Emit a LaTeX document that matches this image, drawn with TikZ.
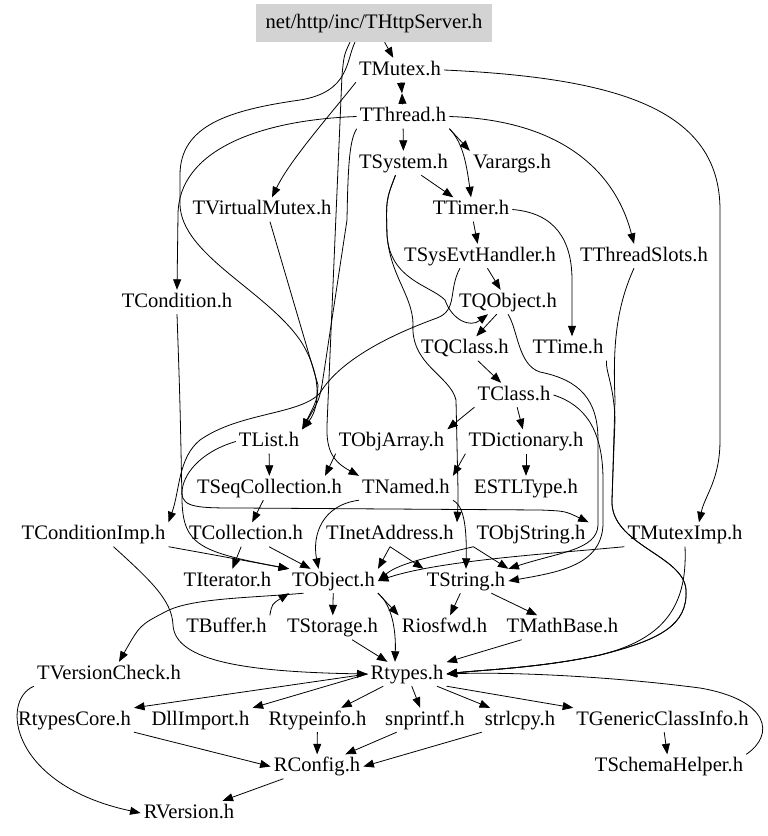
\documentclass[tikz,border=0pt]{standalone}
\usepackage{fontspec}
\setmainfont{Liberation Serif}
\usetikzlibrary{arrows.meta}
\definecolor{rootgrey}{HTML}{D3D3D3}

\begin{document}
\begin{tikzpicture}[x=1pt,y=-1pt,
    hdr/.style={inner xsep=3pt,inner ysep=3pt,text height=14pt,text depth=4pt,font=\fontsize{20.6}{24}\selectfont},
    rootbox/.style={hdr,fill=rootgrey,minimum width=236pt,minimum height=38pt},
    edge/.style={-{Triangle[length=10.5pt,width=8pt]},line width=0.8pt}]
            \useasboundingbox (0,0) rectangle (768,836);

            \node[rootbox] (srv) at (374,23) {net/http/inc/THttpServer.h};
            \node[hdr] (tmutex) at (400,70) {TMutex.h};
            \node[hdr] (tthread) at (403,116.5) {TThread.h};
            \node[hdr] (tsystem) at (403.5,163) {TSystem.h};
            \node[hdr] (varargs) at (512,163) {Varargs.h};
            \node[hdr] (tvmutex) at (262,209.5) {TVirtualMutex.h};
            \node[hdr] (ttimer) at (471,209.5) {TTimer.h};
            \node[hdr] (tsysevt) at (480,256) {TSysEvtHandler.h};
            \node[hdr] (tslots) at (644,256) {TThreadSlots.h};
            \node[hdr] (tcondition) at (177,302) {TCondition.h};
            \node[hdr] (tqobject) at (508,302) {TQObject.h};
            \node[hdr] (tqclass) at (465,348.5) {TQClass.h};
            \node[hdr] (ttime) at (568,348.5) {TTime.h};
            \node[hdr] (tclass) at (514,395) {TClass.h};
            \node[hdr] (tlist) at (269,441.5) {TList.h};
            \node[hdr] (tobjarray) at (391.5,441.5) {TObjArray.h};
            \node[hdr] (tdict) at (526,441.5) {TDictionary.h};
            \node[hdr] (tseqcoll) at (269.5,488) {TSeqCollection.h};
            \node[hdr] (tnamed) at (406,488) {TNamed.h};
            \node[hdr] (estltype) at (526,488) {ESTLType.h};
            \node[hdr] (tcondimp) at (93.5,534.5) {TConditionImp.h};
            \node[hdr] (tcoll) at (246,534.5) {TCollection.h};
            \node[hdr] (tinet) at (390,534.5) {TInetAddress.h};
            \node[hdr] (tobjstring) at (531,534.5) {TObjString.h};
            \node[hdr] (tmuteximp) at (685,534.5) {TMutexImp.h};
            \node[hdr] (titer) at (227.5,581) {TIterator.h};
            \node[hdr] (tobject) at (333.5,581) {TObject.h};
            \node[hdr] (tstring) at (466,581) {TString.h};
            \node[hdr] (tbuffer) at (226.5,627.5) {TBuffer.h};
            \node[hdr] (tstorage) at (332.5,627.5) {TStorage.h};
            \node[hdr] (riosfwd) at (444.5,627.5) {Riosfwd.h};
            \node[hdr] (tmathbase) at (562.5,627.5) {TMathBase.h};
            \node[hdr] (tversion) at (109,674) {TVersionCheck.h};
            \node[hdr] (rtypes) at (407,674) {Rtypes.h};
            \node[hdr] (rtypescore) at (74.5,720) {RtypesCore.h};
            \node[hdr] (dllimport) at (200.5,720) {DllImport.h};
            \node[hdr] (rtypeinfo) at (317.5,720) {Rtypeinfo.h};
            \node[hdr] (snprintf) at (425,720) {snprintf.h};
            \node[hdr] (strlcpy) at (520,720) {strlcpy.h};
            \node[hdr] (tgci) at (662.5,720) {TGenericClassInfo.h};
            \node[hdr] (rconfig) at (317,766.5) {RConfig.h};
            \node[hdr] (tschema) at (669,766.5) {TSchemaHelper.h};
            \node[hdr] (rversion) at (189,813) {RVersion.h};

            % upper part
            \coordinate (mt) at (402,93.3);
            \draw[edge] (srv) -- (tmutex);
            \draw[edge] (tmutex) -- (mt);
            \draw[edge] (tthread) -- (mt);
            \draw[edge] (tthread) -- (tsystem);
            \draw[edge] (tthread.south east) .. controls (456,136) .. (varargs.north west);
            \draw[edge] (tthread.south east) .. controls (462,142) and (466,160) .. (ttimer.north);
            \draw[edge] (tsystem) -- (ttimer);
            \draw[edge] (tmutex.south west) .. controls (330,115) and (290,160) .. ([xshift=10]tvmutex.north);
            \draw[edge] (tthread.east) .. controls (560,120) and (615,170) .. ([xshift=-10]tslots.north);
            \draw[edge] (tmutex.east) .. controls (620,78) and (720,110) .. (720,210) -- (720,440) .. controls (720,480) and (705,495) .. ([xshift=14]tmuteximp.north);
            \draw[edge] (tthread.west) .. controls (260,120) and (178,150) .. (178,215) -- (tcondition.north);
            \draw[edge] ([xshift=-19]srv.south) .. controls (346,60) and (350,92) .. (300,100) .. controls (230,110) and (180,125) .. (180,175) -- (180,205) .. controls (182,255) and (265,290) .. (300,340) .. controls (320,370) and (322,405) .. (tlist.north east);
            \draw[edge] ([xshift=-24]srv.south) .. controls (344,55) .. (342,75) -- (327,425) .. controls (326,452) and (334,462) .. (tnamed.north west);
            \draw[edge] (tthread.south west) .. controls (350,140) and (348,160) .. (347,220) -- (322,385) .. controls (319,400) .. (tlist.north east);
            \draw[edge] ([xshift=8]tvmutex.south) -- (318,385) .. controls (317,400) .. (tlist.north east);
            \draw[edge] (ttimer) -- (tsysevt);
            \draw[edge] (tsysevt) -- (tqobject);
            \draw[edge] (ttimer.east) .. controls (555,213) and (572,240) .. (572,280) -- ([xshift=4]ttime.north);
            \draw[edge] ([xshift=-8]tsystem.south) .. controls (386,200) .. (387,235) .. controls (390,280) and (430,285) .. (445,300) .. controls (452,320) and (470,328) .. ([xshift=-20]tqobject.south);
            \draw[edge] ([xshift=-8]tsystem.south) .. controls (386,200) .. (387,235) .. controls (390,275) and (412,295) .. (413,323) .. controls (410,365) and (450,375) .. (456,400) -- (458,490) .. controls (458,505) .. (tinet.north east);
            \draw[edge] ([xshift=-20]tsysevt.south) .. controls (448,290) and (458,310) .. (437,318) .. controls (390,335) and (340,360) .. (320,393) .. controls (300,415) and (240,412) .. (200,440) .. controls (178,458) and (180,490) .. (tcondimp.north east);

            % middle part
            \draw[edge] (tqobject) -- (tqclass);
            \draw[edge] (tqclass) -- (tclass);
            \draw[edge] (tclass) -- (tdict);
            \draw[edge] (tclass.south west) -- (tobjarray.north east);
            \draw[edge] (tqobject.south) .. controls (518,330) and (518,365) .. (540,372) .. controls (580,380) and (598,400) .. (598,440) -- (598,525) .. controls (597,550) and (560,552) .. (tstring.north east);
            \draw[edge] (tclass.east) .. controls (585,405) and (603,430) .. (603,480) -- (603,525) .. controls (601,565) and (560,572) .. (tstring.east);
            \draw[edge] (tdict) -- (estltype);
            \draw[edge] (tdict.south west) -- (tnamed.north east);
            \draw[edge] (tlist) -- (tseqcoll);
            \draw[edge] (tobjarray.south west) -- ([xshift=-20]tseqcoll.north east);
            \draw[edge] (tseqcoll) -- (tcoll);
            \draw[edge] (tlist.west) .. controls (200,452) and (182,475) .. (182,493) .. controls (182,508) and (200,508) .. (240,508) -- (540,510) .. controls (565,511) .. (tobjstring.north east);
            \draw[edge] (tnamed.south east) .. controls (462,505) and (467,520) .. (tstring.north);
            \draw[edge] (tnamed.south west) .. controls (322,505) and (312,535) .. ([xshift=-15]tobject.north);
            \draw[edge] (tcondition.south) .. controls (180,400) .. (182,500) .. controls (183,545) and (200,552) .. (tobject.north west);
            \draw[edge] (tcondimp.south east) .. controls (220,556) .. (tobject.north west);
            \draw[edge] (tcoll) -- (titer);
            \draw[edge] (tcoll) -- (tobject);
            \draw[edge] (tinet.south) -- (tobject.north east);
            \draw[edge] (tinet.south) -- (tstring.north west);
            \draw[edge] (tobjstring.south west) .. controls (440,555) and (400,562) .. (tobject.east);
            \draw[edge] (tobjstring.south west) -- (tstring.north east);
            \draw[edge] (tmuteximp.south west) .. controls (560,553) and (440,560) .. (tobject.east);

            % lower part
            \draw[edge] (tobject) -- (tstorage);
            \draw[edge] (tobject.south east) -- (riosfwd.north west);
            \draw[edge] (tobject.south east) .. controls (392,605) and (396,630) .. ([xshift=-12]rtypes.north);
            \draw[edge] ([xshift=-30]tobject.south) .. controls (250,598) and (190,598) .. (165,612) .. controls (140,625) .. ([xshift=10]tversion.north);
            \draw[edge] (tbuffer.north east) .. controls (272,604) .. (tobject.south west);
            \draw[edge] (tstring) -- (riosfwd);
            \draw[edge] (tstring) -- (tmathbase);
            \draw[edge] (tstorage) -- (rtypes);
            \draw[edge] (tmathbase) -- (rtypes);
            \draw[edge] ([xshift=20]tcondimp.south) .. controls (150,580) and (172,600) .. (173,625) .. controls (175,662) and (250,672) .. (rtypes.west);
            \draw[edge] (tmuteximp.south) .. controls (688,610) and (660,640) .. (600,655) .. controls (540,668) and (480,670) .. (rtypes.east);
            \draw[edge] ([xshift=-10]tslots.south) .. controls (615,310) and (613,350) .. (615,400) -- (612,500) .. controls (610,545) and (684,555) .. (686,590) .. controls (688,625) and (660,640) .. (600,655) .. controls (540,668) and (480,670) .. (rtypes.east);
            \draw[edge] (ttime.south east) .. controls (605,370) and (614,385) .. (615,420) -- (612,500) .. controls (610,545) and (684,555) .. (686,590) .. controls (688,625) and (660,640) .. (600,655) .. controls (540,668) and (480,670) .. (rtypes.east);
            \draw[edge] (tschema.north east) .. controls (775,735) and (770,700) .. (700,688) .. controls (600,675) and (500,672) .. (rtypes.east);
            \draw[edge] (rtypes.west) -- (rtypescore.north east);
            \draw[edge] (rtypes.west) -- (dllimport.north east);
            \draw[edge] (rtypes) -- (rtypeinfo);
            \draw[edge] (rtypes) -- (snprintf);
            \draw[edge] (rtypes) -- (strlcpy);
            \draw[edge] (rtypes.south east) -- (tgci.north west);
            \draw[edge] (tgci) -- (tschema);
            \draw[edge] (rtypescore.south east) -- (rconfig.west);
            \draw[edge] (rtypeinfo) -- (rconfig);
            \draw[edge] (snprintf) -- (rconfig);
            \draw[edge] (strlcpy.south west) -- (rconfig.east);
            \draw[edge] (rconfig) -- (rversion);
            \draw[edge] (tversion.south west) .. controls (0,700) and (10,785) .. (rversion.west);
        \end{tikzpicture}
\end{document}
